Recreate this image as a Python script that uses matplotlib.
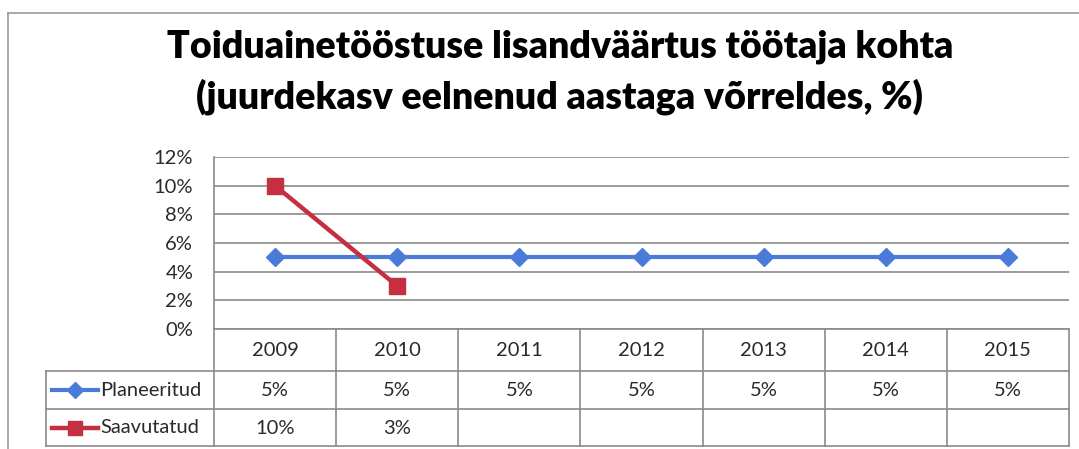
import matplotlib
matplotlib.use("Agg")
import matplotlib.pyplot as plt
from matplotlib.lines import Line2D

plt.rcParams['font.family'] = ['Lato', 'DejaVu Sans']

title_lines = ["Toiduainetööstuse lisandväärtus töötaja kohta",
               "(juurdekasv eelnenud aastaga võrreldes, %)"]
years = ["2009", "2010", "2011", "2012", "2013", "2014", "2015"]
series_names = ["Planeeritud", "Saavutatud"]
planeeritud = [5, 5, 5, 5, 5, 5, 5]
saavutatud = [10, 3, None, None, None, None, None]
y_ticks = [0, 2, 4, 6, 8, 10, 12]

BLUE = '#4a7bd9'
RED = '#c4303f'
GRID = '#8a8a8a'
TXT = '#2a2a2a'
FS = 14.5

W, H = 1079, 449
fig = plt.figure(figsize=(W / 100, H / 100), dpi=100)

def fx(x):
    return x / W

def fy(y):
    return 1 - y / H

# plot area geometry (pixels)
L, R, T, B = 214, 1069, 157, 329
ax = fig.add_axes([fx(L), fy(B), fx(R) - fx(L), fy(T) - fy(B)])
ax.set_xlim(-0.5, len(years) - 0.5)
ax.set_ylim(0, 12)
ax.set_yticks(y_ticks)
ax.set_yticklabels([f"{v}%" for v in y_ticks], fontsize=FS, color=TXT)
ax.tick_params(axis='y', length=0, pad=15)
ax.set_xticks([])
for s in ['top', 'right', 'bottom']:
    ax.spines[s].set_visible(False)
ax.spines['left'].set_color(GRID)
ax.spines['left'].set_linewidth(1.2)
ax.grid(axis='y', color=GRID, linewidth=1.2)
ax.set_axisbelow(True)

xs = list(range(len(years)))
ax.plot(xs, planeeritud, color=BLUE, linewidth=3, marker='D', markersize=9,
        markerfacecolor=BLUE, markeredgecolor=BLUE, zorder=3, clip_on=False)
sx = [x for x, v in zip(xs, saavutatud) if v is not None]
sv = [v for v in saavutatud if v is not None]
ax.plot(sx, sv, color=RED, linewidth=3.2, marker='s', markersize=11.5,
        markerfacecolor=RED, markeredgecolor=RED, zorder=4, clip_on=False)

# title
title_y = [47, 97]
for line, yy in zip(title_lines, title_y):
    fig.text(fx(560), fy(yy), line, ha='center', va='center',
             fontsize=27, fontweight='heavy', color='black')

# data table
TL = 46
rows_y = [329, 371, 409, 446]
colw = (R - L) / len(years)

def hline(y, x0, x1):
    fig.add_artist(Line2D([fx(x0), fx(x1)], [fy(y), fy(y)], color=GRID, lw=1.2))

def vline(x, y0, y1):
    fig.add_artist(Line2D([fx(x), fx(x)], [fy(y0), fy(y1)], color=GRID, lw=1.2))

hline(rows_y[0], L, R)
for y in rows_y[1:]:
    hline(y, TL, R)
vline(TL, rows_y[1], rows_y[3])
for k in range(len(years) + 1):
    vline(L + k * colw, rows_y[0], rows_y[3])

for k, yr in enumerate(years):
    cx = L + (k + 0.5) * colw
    fig.text(fx(cx), fy((rows_y[0] + rows_y[1]) / 2 + 1), yr, ha='center', va='center',
             fontsize=FS, color=TXT)

table_vals = [planeeritud, saavutatud]
styles = [(BLUE, 'D', 8, 3), (RED, 's', 10, 3.2)]
for r, (name, vals, st) in enumerate(zip(series_names, table_vals, styles)):
    cy = (rows_y[r + 1] + rows_y[r + 2]) / 2
    col, mk, ms, lw = st
    fig.add_artist(Line2D([fx(52), fx(98)], [fy(cy), fy(cy)], color=col, lw=lw))
    fig.add_artist(Line2D([fx(75)], [fy(cy)], color=col, marker=mk, markersize=ms,
                          markerfacecolor=col, markeredgecolor=col, lw=0))
    fig.text(fx(100), fy(cy), name, ha='left', va='center', fontsize=FS, color=TXT)
    for k, v in enumerate(vals):
        if v is None:
            continue
        cx = L + (k + 0.5) * colw
        fig.text(fx(cx), fy(cy + 1), f"{v}%", ha='center', va='center',
                 fontsize=FS, color=TXT)

# outer frame (left and top edges visible)
FR = '#9a9a9a'
fig.add_artist(Line2D([fx(8), fx(8)], [fy(13), 0], color=FR, lw=1.2))
fig.add_artist(Line2D([fx(8), 1], [fy(13), fy(13)], color=FR, lw=1.2))

fig.savefig("out.png", dpi=100)
